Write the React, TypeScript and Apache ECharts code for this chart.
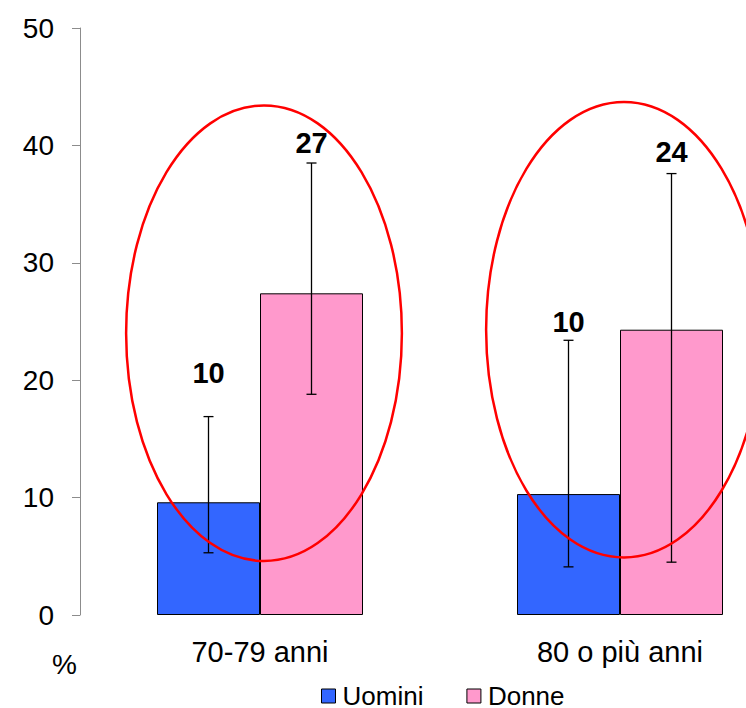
import React, { useEffect, useRef } from "react";
import * as echarts from "echarts";

const categories = ["70-79 anni", "80 o più anni"];
const uomini = [9.6, 10.3];
const donne = [27.4, 24.3];
const uominiLow = [5.3, 4.1];
const uominiHigh = [16.9, 23.4];
const donneLow = [18.8, 4.5];
const donneHigh = [38.5, 37.6];
const uominiLabelAt = [20.6, 25.0];
const donneLabelAt = [40.2, 39.4];
const ellipseLow = [4.6, 4.9];
const ellipseHigh = [43.4, 43.7];
const yTicks = [0, 10, 20, 30, 40, 50];

const FONT = "'Liberation Sans', Arial, sans-serif";
const BAR_W = 103;

export default function App() {
  const ref = useRef<HTMLDivElement>(null);
  useEffect(() => {
    if (!ref.current) return;
    const chart = echarts.init(ref.current, undefined, { renderer: "svg" });

    const errData: any[] = [];
    categories.forEach((_, i) => {
      errData.push([i, uominiLow[i], uominiHigh[i], -1, uominiLabelAt[i], Math.round(uomini[i])]);
      errData.push([i, donneLow[i], donneHigh[i], 1, donneLabelAt[i], Math.round(donne[i])]);
    });
    const ellData = categories.map((_, i) => [i, ellipseLow[i], ellipseHigh[i]]);

    chart.setOption({
      animation: false,
      backgroundColor: "#fff",
      textStyle: { fontFamily: FONT },
      grid: {
        left: 80,
        width: 720,
        top: 28,
        height: 587,
        containLabel: false,
        outerBoundsMode: "none",
      },
      legend: {
        top: 678,
        left: 316,
        itemWidth: 14,
        itemHeight: 14,
        itemGap: 43,
        textStyle: {
          fontSize: 26,
          lineHeight: 24,
          color: "#000",
          fontFamily: FONT,
          padding: [0, 0, 0, 2],
        },
        data: [
          { name: "Uomini", icon: "rect", itemStyle: { borderColor: "#000", borderWidth: 1 } },
          { name: "Donne", icon: "rect", itemStyle: { borderColor: "#000", borderWidth: 1 } },
        ],
      },
      xAxis: {
        type: "category",
        data: categories,
        axisLine: { show: false },
        axisTick: { show: false },
        axisLabel: { fontSize: 29, color: "#000", margin: 22, fontFamily: FONT },
      },
      yAxis: {
        type: "value",
        min: yTicks[0],
        max: yTicks[yTicks.length - 1],
        interval: 10,
        splitLine: { show: false },
        axisLine: { show: true, lineStyle: { color: "#8c8c8c", width: 1 } },
        axisTick: { show: true, length: 8, lineStyle: { color: "#8c8c8c" } },
        axisLabel: { fontSize: 28, color: "#000", margin: 26, fontFamily: FONT },
      },
      graphic: [
        {
          type: "text",
          left: 52,
          top: 650,
          style: { text: "%", fontSize: 28, fill: "#000", fontFamily: FONT },
        },
      ],
      series: [
        {
          name: "Uomini",
          type: "bar",
          data: uomini,
          barWidth: BAR_W,
          barGap: "0%",
          itemStyle: { color: "#3366FF", borderColor: "#000", borderWidth: 1 },
          z: 2,
        },
        {
          name: "Donne",
          type: "bar",
          data: donne,
          barWidth: BAR_W,
          barGap: "0%",
          itemStyle: { color: "#FF99CC", borderColor: "#000", borderWidth: 1 },
          z: 2,
        },
        {
          type: "custom",
          data: errData,
          z: 5,
          renderItem: (params: any, api: any) => {
            const cat = api.value(0);
            const side = api.value(3);
            const lo = api.coord([cat, api.value(1)]);
            const hi = api.coord([cat, api.value(2)]);
            const lab = api.coord([cat, api.value(4)]);
            const x = lo[0] + (side * BAR_W) / 2;
            const cap = 5;
            const ls = { stroke: "#000", lineWidth: 1.3 };
            return {
              type: "group",
              children: [
                { type: "line", shape: { x1: x, y1: hi[1], x2: x, y2: lo[1] }, style: ls },
                { type: "line", shape: { x1: x - cap, y1: hi[1], x2: x + cap, y2: hi[1] }, style: ls },
                { type: "line", shape: { x1: x - cap, y1: lo[1], x2: x + cap, y2: lo[1] }, style: ls },
                {
                  type: "text",
                  x: x,
                  y: lab[1],
                  style: {
                    text: String(api.value(5)),
                    fontSize: 29,
                    fontWeight: "bold",
                    fontFamily: FONT,
                    fill: "#000",
                    align: "center",
                    verticalAlign: "middle",
                  },
                },
              ],
            };
          },
        },
        {
          type: "custom",
          data: ellData,
          z: 6,
          silent: true,
          clip: false,
          renderItem: (params: any, api: any) => {
            const cat = api.value(0);
            const lo = api.coord([cat, api.value(1)]);
            const hi = api.coord([cat, api.value(2)]);
            const band = api.size([1, 0])[0];
            return {
              type: "ellipse",
              shape: {
                cx: lo[0] + 4,
                cy: (lo[1] + hi[1]) / 2,
                rx: band * 0.383,
                ry: (lo[1] - hi[1]) / 2,
              },
              style: { fill: "none", stroke: "#FF0000", lineWidth: 2.5 },
            };
          },
        },
      ],
    });
    return () => chart.dispose();
  }, []);
  return (
    <div
      ref={ref}
      style={{ position: "absolute", left: 0, top: 0, width: 746, height: 708 }}
    />
  );
}
